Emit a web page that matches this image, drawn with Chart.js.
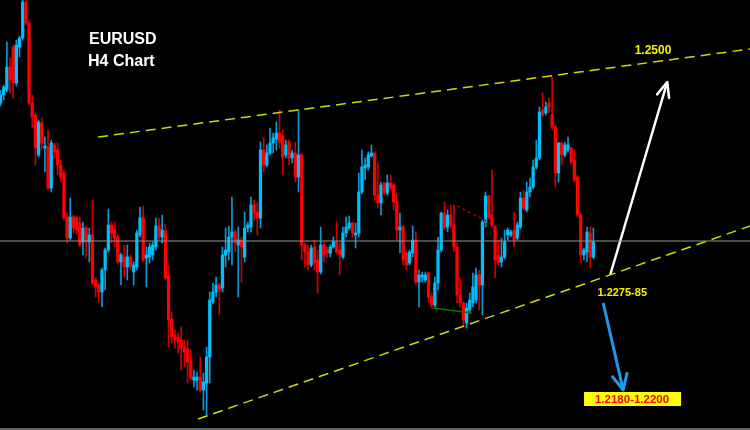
<!DOCTYPE html>
<html><head><meta charset="utf-8">
<style>html,body{margin:0;padding:0;background:#000;overflow:hidden}canvas{display:block}</style>
<script src="https://cdn.jsdelivr.net/npm/chart.js@4.4.1/dist/chart.umd.min.js"></script>
</head><body>
<canvas id="c" width="750" height="430"></canvas>
<script>
// EURUSD H4 candles (prices)
const opens=[1.2459,1.2467,1.2472,1.2495,1.2515,1.2479,1.2515,1.2524,1.2560,1.2539,1.2459,1.2447,1.2407,1.2439,1.2414,1.2415,1.2374,1.2417,1.2412,1.2397,1.2389,1.2345,1.2324,1.2345,1.2344,1.2339,1.2320,1.2334,1.2320,1.2327,1.2282,1.2277,1.2270,1.2292,1.2312,1.2337,1.2332,1.2325,1.2300,1.2305,1.2295,1.2305,1.2290,1.2295,1.2327,1.2344,1.2304,1.2305,1.2307,1.2315,1.2336,1.2325,1.2331,1.2286,1.2243,1.2227,1.2225,1.2222,1.2215,1.2213,1.2202,1.2182,1.2182,1.2185,1.2172,1.2179,1.2205,1.2260,1.2270,1.2277,1.2274,1.2307,1.2310,1.2325,1.2330,1.2317,1.2322,1.2305,1.2334,1.2335,1.2357,1.2350,1.2344,1.2412,1.2397,1.2409,1.2419,1.2423,1.2429,1.2426,1.2407,1.2420,1.2404,1.2409,1.2385,1.2407,1.2317,1.2310,1.2297,1.2315,1.2302,1.2290,1.2317,1.2312,1.2309,1.2315,1.2320,1.2312,1.2305,1.2329,1.2334,1.2339,1.2327,1.2329,1.2370,1.2394,1.2395,1.2406,1.2409,1.2367,1.2359,1.2379,1.2369,1.2379,1.2377,1.2360,1.2332,1.2335,1.2309,1.2299,1.2309,1.2322,1.2280,1.2285,1.2282,1.2289,1.2265,1.2257,1.2279,1.2312,1.2349,1.2335,1.2347,1.2337,1.2315,1.2267,1.2259,1.2239,1.2252,1.2259,1.2262,1.2287,1.2277,1.2340,1.2366,1.2347,1.2335,1.2307,1.2300,1.2305,1.2327,1.2327,1.2332,1.2324,1.2335,1.2364,1.2352,1.2370,1.2375,1.2395,1.2404,1.2452,1.2449,1.2459,1.2447,1.2435,1.2389,1.2419,1.2407,1.2412,1.2414,1.2402,1.2385,1.2347,1.2307,1.2310,1.2329,1.2305];
const highs=[1.2472,1.2477,1.2520,1.2504,1.2517,1.2522,1.2526,1.2566,1.2562,1.2542,1.2467,1.2449,1.2442,1.2444,1.2425,1.2432,1.2422,1.2419,1.2419,1.2402,1.2392,1.2349,1.2364,1.2347,1.2346,1.2345,1.2340,1.2336,1.2334,1.2362,1.2284,1.2279,1.2294,1.2314,1.2353,1.2340,1.2340,1.2327,1.2309,1.2317,1.2317,1.2307,1.2300,1.2332,1.2355,1.2356,1.2315,1.2319,1.2320,1.2344,1.2344,1.2347,1.2338,1.2297,1.2250,1.2232,1.2229,1.2235,1.2222,1.2222,1.2212,1.2192,1.2190,1.2205,1.2189,1.2215,1.2270,1.2279,1.2285,1.2279,1.2315,1.2334,1.2336,1.2365,1.2332,1.2335,1.2325,1.2350,1.2340,1.2365,1.2362,1.2359,1.2420,1.2425,1.2417,1.2434,1.2429,1.2440,1.2452,1.2432,1.2422,1.2422,1.2412,1.2420,1.2452,1.2409,1.2319,1.2317,1.2317,1.2322,1.2312,1.2335,1.2320,1.2315,1.2317,1.2325,1.2340,1.2319,1.2335,1.2345,1.2346,1.2340,1.2339,1.2389,1.2412,1.2404,1.2410,1.2417,1.2410,1.2399,1.2380,1.2380,1.2387,1.2387,1.2379,1.2369,1.2349,1.2337,1.2310,1.2312,1.2336,1.2330,1.2292,1.2290,1.2290,1.2290,1.2269,1.2285,1.2325,1.2350,1.2360,1.2352,1.2357,1.2357,1.2319,1.2284,1.2260,1.2259,1.2269,1.2289,1.2294,1.2292,1.2342,1.2370,1.2367,1.2392,1.2337,1.2322,1.2324,1.2332,1.2334,1.2332,1.2350,1.2340,1.2370,1.2372,1.2380,1.2384,1.2402,1.2422,1.2455,1.2469,1.2460,1.2464,1.2485,1.2437,1.2420,1.2420,1.2420,1.2425,1.2415,1.2412,1.2387,1.2349,1.2314,1.2335,1.2335,1.2334];
const lows=[1.2456,1.2462,1.2470,1.2469,1.2464,1.2476,1.2505,1.2522,1.2537,1.2457,1.2435,1.2397,1.2405,1.2412,1.2390,1.2372,1.2370,1.2404,1.2387,1.2380,1.2342,1.2319,1.2322,1.2329,1.2328,1.2315,1.2307,1.2304,1.2300,1.2277,1.2265,1.2260,1.2255,1.2272,1.2310,1.2319,1.2315,1.2298,1.2277,1.2285,1.2282,1.2292,1.2277,1.2292,1.2325,1.2300,1.2275,1.2299,1.2302,1.2312,1.2322,1.2319,1.2282,1.2215,1.2219,1.2214,1.2209,1.2192,1.2195,1.2179,1.2182,1.2175,1.2172,1.2170,1.2152,1.2147,1.2179,1.2258,1.2265,1.2247,1.2270,1.2295,1.2302,1.2297,1.2310,1.2265,1.2280,1.2300,1.2330,1.2330,1.2342,1.2327,1.2334,1.2390,1.2395,1.2407,1.2409,1.2412,1.2414,1.2387,1.2404,1.2397,1.2399,1.2380,1.2370,1.2302,1.2295,1.2292,1.2295,1.2292,1.2269,1.2288,1.2300,1.2305,1.2305,1.2314,1.2308,1.2287,1.2303,1.2325,1.2332,1.2325,1.2314,1.2325,1.2368,1.2382,1.2392,1.2405,1.2362,1.2354,1.2347,1.2367,1.2367,1.2372,1.2352,1.2322,1.2309,1.2297,1.2292,1.2297,1.2305,1.2277,1.2255,1.2280,1.2280,1.2260,1.2254,1.2255,1.2272,1.2310,1.2332,1.2330,1.2334,1.2310,1.2259,1.2255,1.2235,1.2234,1.2249,1.2255,1.2259,1.2252,1.2247,1.2335,1.2343,1.2335,1.2284,1.2297,1.2295,1.2303,1.2322,1.2325,1.2315,1.2322,1.2333,1.2352,1.2350,1.2365,1.2373,1.2393,1.2402,1.2445,1.2447,1.2449,1.2432,1.2375,1.2380,1.2397,1.2405,1.2410,1.2398,1.2380,1.2345,1.2299,1.2302,1.2300,1.2294,1.2303];
const closes=[1.2467,1.2475,1.2495,1.2482,1.2479,1.2517,1.2524,1.2560,1.2539,1.2459,1.2445,1.2414,1.2440,1.2419,1.2416,1.2374,1.2419,1.2410,1.2397,1.2385,1.2344,1.2324,1.2345,1.2334,1.2332,1.2317,1.2334,1.2320,1.2327,1.2279,1.2275,1.2270,1.2292,1.2312,1.2337,1.2329,1.2324,1.2300,1.2307,1.2295,1.2305,1.2295,1.2297,1.2329,1.2344,1.2302,1.2307,1.2315,1.2317,1.2336,1.2325,1.2332,1.2284,1.2242,1.2225,1.2222,1.2220,1.2214,1.2210,1.2200,1.2184,1.2185,1.2185,1.2172,1.2180,1.2205,1.2262,1.2270,1.2277,1.2272,1.2307,1.2312,1.2325,1.2330,1.2319,1.2322,1.2315,1.2334,1.2337,1.2357,1.2349,1.2344,1.2412,1.2397,1.2409,1.2419,1.2424,1.2429,1.2420,1.2405,1.2417,1.2404,1.2409,1.2385,1.2407,1.2317,1.2310,1.2297,1.2314,1.2299,1.2290,1.2317,1.2307,1.2309,1.2315,1.2320,1.2310,1.2307,1.2329,1.2335,1.2339,1.2329,1.2329,1.2370,1.2395,1.2397,1.2407,1.2409,1.2367,1.2359,1.2377,1.2369,1.2379,1.2374,1.2360,1.2332,1.2335,1.2302,1.2297,1.2310,1.2322,1.2280,1.2287,1.2287,1.2287,1.2265,1.2257,1.2279,1.2312,1.2349,1.2334,1.2347,1.2337,1.2315,1.2267,1.2259,1.2242,1.2254,1.2262,1.2275,1.2287,1.2277,1.2340,1.2366,1.2345,1.2337,1.2302,1.2299,1.2305,1.2320,1.2332,1.2330,1.2322,1.2337,1.2364,1.2354,1.2370,1.2375,1.2395,1.2404,1.2450,1.2447,1.2455,1.2455,1.2435,1.2389,1.2419,1.2407,1.2417,1.2417,1.2400,1.2382,1.2347,1.2307,1.2312,1.2330,1.2305,1.2320];

// analysis objects (x in bar-index units, y in price)
const upperTrend=[{x:30.8,y:1.2425},{x:236.4,y:1.2513}];
const lowerTrend=[{x:62.3,y:1.2143},{x:236.4,y:1.2336}];
const hLine=[{x:-0.2,y:1.2321},{x:236.5,y:1.2321}];
const upArrow=[{x:192.3,y:1.2287},{x:210.3,y:1.2480}];
const downArrow=[{x:190.1,y:1.2259},{x:196.4,y:1.2172}];
const redDots=[{x:144.0,y:1.2356},{x:154.4,y:1.2339}];
const greenSeg=[{x:136.4,y:1.2254},{x:148.7,y:1.2249}];
const titleLines=['EURUSD','H4 Chart'];
const noteTexts=['1.2500','1.2275-85','1.2180-1.2200'];
const noteAnchors=[{x:205.8,y:1.2511},{x:196.1,y:1.2269},{x:199.2,y:1.2163}];

const idx=opens.map((_,i)=>i);
const up=idx.map(i=>closes[i]>=opens[i]);
const bodyData=idx.map(i=>({x:i,y:[opens[i],closes[i]]}));
const wickData=idx.map(i=>({x:i,y:[lows[i],highs[i]]}));

const overlay={
  id:'overlay',
  beforeDraw(chart){
    const c=chart.ctx;c.save();c.fillStyle='#000';c.fillRect(0,0,chart.width,chart.height);c.restore();
  },
  afterDraw(chart){
    const c=chart.ctx, xs=chart.scales.x, ys=chart.scales.y;
    function head(dsIndex,len,ang,color,w){
      const pts=chart.getDatasetMeta(dsIndex).data;
      const t=pts[0], p=pts[1];
      const a=Math.atan2(p.y-t.y,p.x-t.x);
      c.save();c.strokeStyle=color;c.lineWidth=w;c.lineCap='round';c.lineJoin='round';
      c.beginPath();
      c.moveTo(p.x-len*Math.cos(a-ang),p.y-len*Math.sin(a-ang));
      c.lineTo(p.x,p.y);
      c.lineTo(p.x-len*Math.cos(a+ang),p.y-len*Math.sin(a+ang));
      c.stroke();c.restore();
    }
    head(6,16,0.40,'#ffffff',2.5);
    head(7,17,0.45,'#1e9be6',3);
    c.save();
    c.textBaseline='alphabetic';
    c.fillStyle='#ffffff';
    c.font='bold 16px "Liberation Sans", Arial, sans-serif';
    c.textAlign='left';
    c.fillText(titleLines[0],89,44);
    c.fillText(titleLines[1],88,66);
    c.textAlign='center';c.textBaseline='middle';
    c.font='bold 12px "Liberation Sans", Arial, sans-serif';
    c.fillStyle='#f5f000';
    c.fillText(noteTexts[0],xs.getPixelForValue(noteAnchors[0].x),ys.getPixelForValue(noteAnchors[0].y));
    c.font='bold 11px "Liberation Sans", Arial, sans-serif';
    c.fillText(noteTexts[1],xs.getPixelForValue(noteAnchors[1].x),ys.getPixelForValue(noteAnchors[1].y));
    const bx=xs.getPixelForValue(noteAnchors[2].x), by=ys.getPixelForValue(noteAnchors[2].y);
    c.fillStyle='#ffff00';c.fillRect(bx-48,by-7,97,14);
    c.fillStyle='#ff0000';c.font='bold 11.5px "Liberation Sans", Arial, sans-serif';
    c.fillText(noteTexts[2],bx,by+0.5);
    c.fillStyle='#c8c8c8';c.fillRect(0,chart.height-1.5,chart.width,1);
    c.restore();
  }
};

const lineDs=(data,color,w,dash,order)=>({type:'line',data,borderColor:color,borderWidth:w,borderDash:dash,pointRadius:0,fill:false,order,tension:0});

new Chart(document.getElementById('c'),{
  type:'bar',
  data:{datasets:[
    {label:'body',data:bodyData,backgroundColor:idx.map(i=>up[i]?'#00bfff':'#ff0000'),barThickness:2.6,grouped:false,borderWidth:0,minBarLength:1,order:1},
    {label:'wick',data:wickData,backgroundColor:idx.map(i=>up[i]?'#0c9ad6':'#d00000'),barThickness:1,grouped:false,borderWidth:0,order:2},
    lineDs(hLine,'#959595',1,[],0),
    lineDs(upperTrend,'#d6d600',1.5,[10,6],0),
    lineDs(lowerTrend,'#d6d600',1.5,[10,6],0),
    lineDs(redDots,'#a00000',1.5,[3,3],0),
    lineDs(upArrow,'#ffffff',2.5,[],0),
    lineDs(downArrow,'#1e9be6',3,[],0),
    lineDs(greenSeg,'#007a00',1.5,[],0)
  ]},
  options:{
    responsive:false,animation:false,
    layout:{padding:0},
    plugins:{legend:{display:false},tooltip:{enabled:false},title:{display:false}},
    scales:{
      x:{type:'linear',min:-0.16,max:236.4,display:false,offset:false,grid:{display:false}},
      y:{type:'linear',min:1.2132,max:1.2562,display:false,grid:{display:false}}
    }
  },
  plugins:[overlay]
});
</script>
</body></html>
